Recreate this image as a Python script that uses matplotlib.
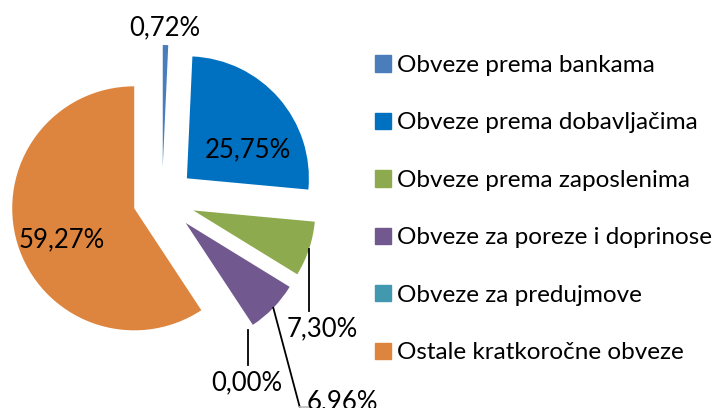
import numpy as np
import matplotlib.pyplot as plt
from matplotlib.patches import Rectangle

categories = ['Obveze prema bankama', 'Obveze prema dobavljačima', 'Obveze prema zaposlenima',
              'Obveze za poreze i doprinose', 'Obveze za predujmove', 'Ostale kratkoročne obveze']
values = [0.72, 25.75, 7.30, 6.96, 0.00, 59.27]
labels = ['0,72%', '25,75%', '7,30%', '6,96%', '0,00%', '59,27%']
colors = ['#4A7EBB', '#0070C0', '#8DAA4F', '#71588F', '#4298AF', '#DD853E']

plt.rcParams['font.family'] = ['Lato', 'DejaVu Sans']
W, H = 718, 408
FS = 18.5
R = 122

fig = plt.figure(figsize=(W / 100, H / 100), dpi=100)
ax = fig.add_axes([0, 0, 1, 1])

# explode is in data units (pixels here)
wedges, _ = ax.pie(values, explode=[33, 33, 33, 33, 33, 29], colors=colors,
                   startangle=90, counterclock=False, radius=R, center=(162, H - 200),
                   wedgeprops=dict(linewidth=0))
ax.set_xlim(0, W)
ax.set_ylim(0, H)
ax.axis('off')


def outer_point(w, frac=0.5):
    ang = np.deg2rad(w.theta1 + (w.theta2 - w.theta1) * frac)
    cx, cy = w.center
    return cx + w.r * np.cos(ang), cy + w.r * np.sin(ang)


# labels (image pixel positions, y from top)
label_pos = {0: (165, 28), 1: (248, 150), 2: (322, 329), 3: (342, 402), 4: (247, 383), 5: (62, 240)}
for i, (x, y) in label_pos.items():
    ax.text(x, H - y, labels[i], ha='center', va='center', fontsize=FS, color='black')

# leader lines
x0, y0 = outer_point(wedges[2])
ax.plot([x0, x0], [y0, H - 311], color='black', lw=1.3)
x0, y0 = outer_point(wedges[4])
ax.plot([x0 + 1, x0 + 1], [H - 330, H - 365], color='black', lw=1.3)
x0, y0 = outer_point(wedges[3])
ax.plot([x0, 300], [y0, 0], color='black', lw=1.3)
ax.plot([300, 310], [1, 1], color='#BFBFBF', lw=1.3)

handles = [Rectangle((0, 0), 1, 1, color=c) for c in colors]
fig.legend(handles, categories, loc='upper left', bbox_to_anchor=(375 / W, 1 - 55 / H),
           frameon=False, fontsize=17.5, handlelength=0.66, handleheight=0.66,
           handletextpad=0.25, labelspacing=1.5, borderaxespad=0, borderpad=0)

fig.savefig('out.png', dpi=100)
